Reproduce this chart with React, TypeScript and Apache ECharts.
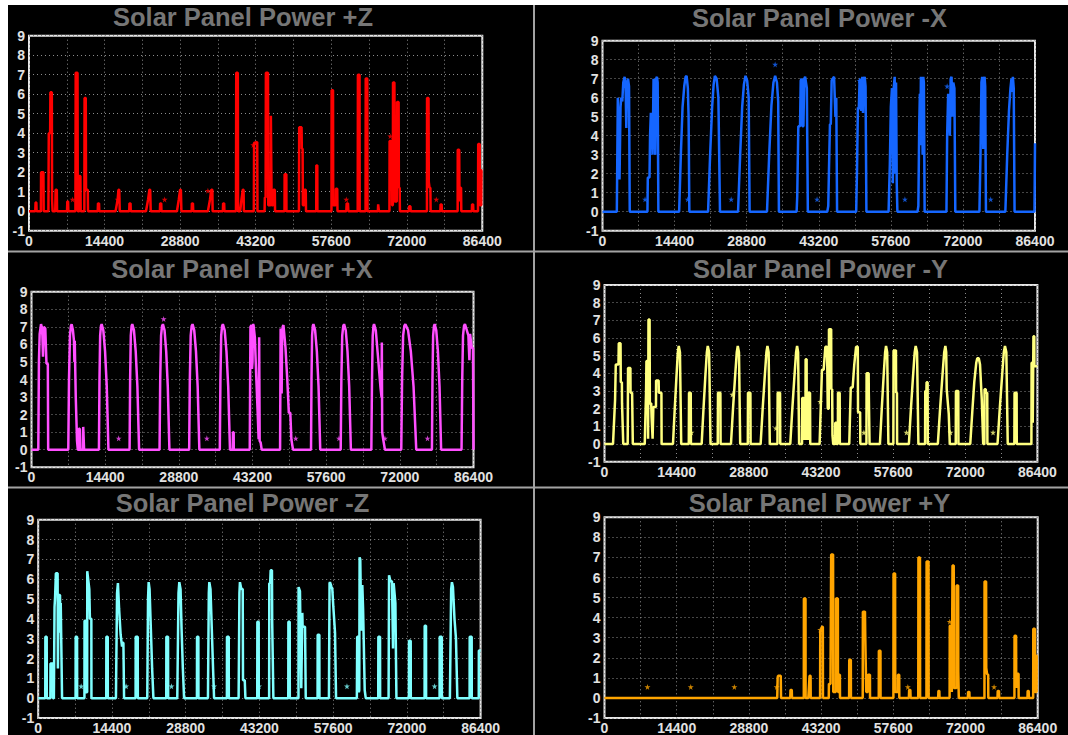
import { useEffect, useRef } from "react";
import * as echarts from "echarts";

type P = [number, number];

// ---- tick labels ----
const xTickValues = [0, 14400, 28800, 43200, 57600, 72000, 86400];
const yTickValues = [-1, 0, 1, 2, 3, 4, 5, 6, 7, 8, 9];

// ---- panel titles ----
const titles = [
  "Solar Panel Power +Z",
  "Solar Panel Power -X",
  "Solar Panel Power +X",
  "Solar Panel Power -Y",
  "Solar Panel Power -Z",
  "Solar Panel Power +Y",
];

// ---- series values (time in s, power) ----
const powerPlusZ: P[] = [
  [0, 0], [1200, 0], [1250, 0.45], [1400, 0.45], [1450, 0],
  [2270, 0], [2300, 2], [2750, 2], [2800, 0],
  [3700, 0], [3770, 4], [4030, 4], [4080, 6.1], [4350, 6.1], [4400, 0.6], [4500, 0], [5000, 0], [5070, 1.1], [5300, 1.1], [5350, 0],
  [7250, 0], [7300, 0.5], [7450, 0.5], [7500, 0],
  [8850, 0], [8900, 7.1], [9250, 7.1], [9300, 0], [9580, 0], [9610, 1.8], [9800, 1.8], [9850, 0],
  [10550, 0], [10590, 5.8], [10820, 5.8], [10870, 1.1], [11200, 1.1], [11250, 0],
  [13100, 0], [13150, 0.4], [13350, 0.4], [13400, 0],
  [16500, 0], [16900, 0.6], [17050, 1.1], [17200, 1.1], [17300, 0],
  [19100, 0], [19150, 0.4], [19350, 0.4], [19400, 0],
  [22300, 0], [22700, 0.6], [22950, 1.1], [23100, 1.1], [23200, 0],
  [24950, 0], [25000, 0.4], [25200, 0.4], [25250, 0],
  [28200, 0], [28550, 0.6], [28800, 1.1], [28950, 1.1], [29050, 0],
  [31000, 0], [31050, 0.4], [31250, 0.4], [31300, 0],
  [34100, 0], [34500, 0.6], [34750, 1.1], [34950, 1.1], [35000, 0],
  [36950, 0], [37000, 0.4], [37200, 0.4], [37250, 0],
  [39450, 0], [39500, 7.1], [39800, 7.1], [39850, 0],
  [40250, 0], [40500, 0.6], [40750, 1.1], [40900, 1.1], [40950, 0],
  [42850, 0], [42900, 3.5], [43500, 3.55], [43550, 0],
  [44900, 0], [44950, 0.7], [45100, 0.7], [45150, 7.1], [45550, 7.1], [45600, 0.3], [46050, 0.3], [46100, 4.9], [46200, 4.9], [46250, 0.3], [46550, 0.3], [46600, 1.1], [46850, 1.1], [46900, 0],
  [48700, 0], [48720, 1.9], [49050, 1.9], [49070, 0],
  [51450, 0], [51500, 4.3], [51950, 4.3], [52000, 3.2], [52150, 3.2], [52200, 0.3], [52450, 0.3], [52500, 1.1], [52750, 1.1], [52800, 0],
  [54750, 0], [54770, 2.35], [54950, 2.35], [54970, 0],
  [57650, 0], [57680, 6.2], [57950, 6.2], [57980, 0.3], [58450, 0.3], [58480, 1.15], [58750, 1.15], [58800, 0],
  [60480, 0], [60550, 0.4], [60800, 0.4], [60870, 0],
  [62650, 0], [62690, 7.0], [63000, 7.0], [63030, 0],
  [64150, 0], [64180, 6.8], [64480, 6.8], [64510, 0],
  [66500, 0], [66550, 0.35], [66650, 0.35], [66700, 0],
  [68700, 0], [68730, 3.6], [69150, 3.6], [69200, 0.3], [69350, 0.3], [69380, 6.6], [69650, 6.6], [69700, 0.5], [70100, 0.5], [70150, 5.6], [70450, 5.6], [70500, 1.2], [70650, 1.2], [70700, 0],
  [72400, 0], [72450, 0.25], [72700, 0.25], [72750, 0],
  [75850, 0], [75870, 5.8], [76150, 5.8], [76200, 1.5], [76350, 1.2], [76500, 1.2], [76550, 0],
  [78400, 0], [78450, 0.35], [78650, 0.35], [78700, 0],
  [81700, 0], [81720, 3.15], [82000, 3.15], [82050, 0.5], [82150, 1.2], [82350, 1.2], [82400, 0],
  [84400, 0], [84450, 0.35], [84650, 0.35], [84700, 0],
  [85580, 0], [85620, 3.45], [85900, 3.45], [85940, 0.3], [86200, 0.3], [86250, 2.1], [86400, 2.1],
];
const starsPlusZ: P[] = [
  [8310, 0.6], [16900, 0.6], [25850, 0.6], [34100, 1.05], [42740, 3.4], [60480, 0.6], [68860, 3.85], [77630, 0.6],
];

const powerMinusX: P[] = [
  [0, 0], [2860, 0], [3060, 6], [3200, 6], [3400, 1.7], [3600, 5.5], [3740, 6], [3950, 5.8], [4150, 6.8], [4420, 7.1], [4620, 6.5], [4760, 4.4], [4900, 6.8], [5100, 7], [5300, 6.6], [5440, 0],
  [8980, 0], [9050, 1.8], [9390, 1.8], [9500, 4], [9660, 5.2], [9850, 4.5], [10000, 3], [10200, 7], [10350, 6], [10540, 3], [10700, 7], [10880, 7.1], [11020, 6.8], [11160, 0],
  [15310, 0], [15650, 3], [15990, 5.5], [16330, 6.6], [16600, 7.1], [16800, 7.15], [17050, 6.5], [17200, 5], [17350, 0],
  [21090, 0], [21500, 3], [21900, 5.5], [22200, 6.7], [22450, 7.15], [22800, 7.0], [23150, 6.0], [23470, 0],
  [27080, 0], [27500, 3], [27900, 5.5], [28250, 6.7], [28570, 7.15], [28900, 6.9], [29200, 6], [29390, 0],
  [32860, 0], [33300, 3], [33750, 5.6], [34150, 6.8], [34490, 7.15], [34850, 6.8], [35100, 5.8], [35240, 0],
  [38780, 0], [38900, 0.8], [39120, 4.5], [39460, 4.5], [39600, 6.9], [39800, 7.0], [39950, 4.5], [40140, 4.5], [40300, 7], [40480, 7.1], [40820, 6.5], [41020, 0],
  [44900, 0], [45100, 0.3], [45240, 2.2], [45440, 4.6], [45600, 4.6], [45780, 6.9], [46000, 7.0], [46260, 7.1], [46530, 5.0], [46700, 6.0], [46860, 0],
  [50680, 0], [50850, 2.3], [51020, 5.5], [51200, 5.4], [51360, 6.9], [51550, 7.0], [51700, 5.3], [51900, 7.1], [52040, 5.2], [52200, 6.8], [52380, 7.1], [52550, 6.6], [52720, 0],
  [57150, 0], [57400, 2.5], [57600, 5.5], [57830, 6.5], [58000, 1.5], [58170, 6.5], [58370, 7.1], [58500, 2], [58640, 6.8], [58780, 1.5], [58910, 0],
  [62930, 0], [63100, 0.3], [63270, 4.5], [63400, 6.2], [63470, 3.5], [63610, 7.1], [63700, 5], [63810, 7], [63950, 3], [64080, 7.1], [64200, 6.8], [64350, 0],
  [68710, 0], [68850, 4], [69050, 6.2], [69200, 5.5], [69390, 4], [69550, 7], [69730, 7.1], [69900, 5], [70070, 6.8], [70300, 6.5], [70480, 0],
  [75300, 0], [75510, 3], [75700, 6.8], [75850, 7.1], [76060, 3.3], [76200, 7.0], [76330, 7.1], [76450, 6.6], [76600, 0],
  [80480, 0], [80850, 3], [81200, 5.3], [81500, 6.5], [81700, 7.0], [81850, 6.3], [81980, 7.1], [82150, 6.5], [82320, 0],
  [86300, 0], [86400, 3.6],
];
const starsMinusX: P[] = [
  [8500, 0.65], [17010, 0.65], [25710, 0.65], [34490, 7.75], [42860, 0.65], [51360, 6.9], [60410, 0.65], [68850, 6.6], [77550, 0.65],
];

const powerPlusX: P[] = [
  [0, 0], [1330, 0], [1450, 5], [1600, 6.6], [1860, 7.15], [2000, 7.0], [2130, 6.5], [2250, 5.3], [2330, 5.3], [2400, 7.0], [2530, 7.0], [2700, 6.9], [2800, 6.0], [2930, 4.9], [3190, 4.9], [3260, 0],
  [7190, 0], [7330, 4], [7520, 6.5], [7700, 7.05], [7850, 7.15], [8100, 6.8], [8300, 6.2], [8390, 5.0], [8450, 6.2], [8650, 3], [8900, 0.5], [9050, 0],
  [9190, 0], [9250, 1.2], [9450, 1.2], [9520, 0], [10050, 0], [10110, 1.3], [10230, 1.3], [10280, 0],
  [13180, 0], [13290, 4], [13420, 6.5], [13580, 7.05], [13710, 7.15], [14040, 6.8], [14380, 5.6], [14710, 3.6], [15040, 0],
  [19170, 0], [19280, 4], [19410, 6.5], [19570, 7.05], [19700, 7.15], [20030, 6.8], [20370, 5.6], [20700, 3.6], [21030, 0],
  [25030, 0], [25160, 4], [25330, 6.5], [25520, 7.05], [25690, 7.15], [26010, 6.8], [26330, 5.6], [26640, 3.6], [26960, 0],
  [30820, 0], [30950, 4], [31120, 6.5], [31310, 7.05], [31480, 7.15], [31810, 6.8], [32150, 5.6], [32480, 3.6], [32810, 0],
  [36810, 0], [36930, 4], [37080, 6.5], [37260, 7.05], [37410, 7.15], [37760, 6.8], [38110, 5.6], [38450, 3.6], [38800, 0],
  [39340, 0], [39380, 1.0], [39520, 1.0], [39540, 0],
  [42660, 0], [42800, 7.0], [42990, 7.1], [43100, 4.6], [43200, 5], [43300, 7.15], [43400, 7.1], [43660, 6.4], [43930, 4.2], [44200, 2.2], [44400, 0.6], [44500, 6.4], [44600, 0.5], [44800, 0.4], [45000, 0],
  [48590, 0], [48700, 6.9], [48790, 6.9], [48900, 3.2], [48990, 6.5], [49100, 7.0], [49250, 7.1], [49650, 5.8], [50000, 4], [50300, 2.1], [50590, 2.1], [50800, 0.6], [51120, 0],
  [54640, 0], [54730, 4], [54850, 6.5], [54990, 7.05], [55110, 7.15], [55440, 6.8], [55780, 5.6], [56110, 3.6], [56440, 0],
  [60440, 0], [60570, 4], [60740, 6.5], [60940, 7.05], [61100, 7.15], [61430, 6.8], [61770, 5.6], [62100, 3.6], [62430, 0],
  [66430, 0], [66560, 4], [66700, 6.5], [66850, 7.05], [66960, 7.15], [67300, 6.8], [67760, 5.2], [68200, 3.6], [68420, 3], [68480, 6.1], [68550, 1], [68750, 0.6], [69090, 0],
  [72280, 0], [72440, 4], [72640, 6.5], [72880, 7.05], [73080, 7.15], [73610, 6.8], [74150, 5.6], [74680, 3.6], [75210, 0],
  [78270, 0], [78380, 4], [78510, 6.5], [78680, 7.05], [78810, 7.15], [79120, 6.8], [79440, 5.6], [79760, 3.6], [80070, 0],
  [84060, 0], [84200, 4], [84350, 6.5], [84550, 7.05], [84730, 7.15], [85100, 6.8], [85400, 6.5], [85600, 5.1], [85730, 6.6], [86060, 5.8], [86300, 5.8], [86400, 0],
];
const starsPlusX: P[] = [
  [17040, 0.65], [25830, 7.45], [34280, 0.65], [51650, 0.65], [60100, 0.65], [69090, 0.65], [77410, 0.65],
];

const powerMinusY: P[] = [
  [0, 0], [1700, 0], [2110, 2.5], [2250, 4.5], [2790, 4.5], [2850, 5.7], [3200, 5.7], [3250, 3.5], [3470, 3.5], [3500, 2.3], [3610, 2.3], [3740, 0],
  [4630, 0], [4700, 4.3], [5170, 4.3], [5200, 2.9], [5510, 2.9], [5650, 0],
  [8030, 0], [8300, 3], [8370, 4.7], [8650, 4.7], [8700, 0.3], [8780, 7.05], [9000, 7.05], [9050, 2.3], [9320, 2.3], [9400, 1.5], [9600, 0.3], [9700, 0.3], [9750, 2.1], [10270, 2.1], [10300, 3.6], [10800, 3.6], [10850, 2.9], [11360, 2.9], [11400, 0],
  [13670, 0], [14020, 2.0], [14360, 3.8], [14640, 5.2], [14820, 5.55], [15060, 5.2], [15310, 0],
  [16820, 0], [16870, 2.9], [17210, 2.9], [17250, 0],
  [19390, 0], [19760, 2.0], [20120, 3.8], [20430, 5.2], [20610, 5.55], [20880, 5.2], [21160, 0],
  [22600, 0], [22650, 2.9], [23130, 2.9], [23170, 0],
  [25240, 0], [25650, 2.0], [26060, 3.8], [26400, 5.2], [26600, 5.55], [26840, 5.2], [27080, 0],
  [28600, 0], [28640, 2.9], [29120, 2.9], [29160, 0],
  [31160, 0], [31570, 2.0], [31980, 3.8], [32320, 5.2], [32520, 5.55], [32760, 5.2], [32990, 0],
  [34520, 0], [34560, 2.9], [35040, 2.9], [35080, 0],
  [37080, 0], [37490, 2.0], [37900, 3.8], [38240, 5.2], [38440, 5.55], [38640, 5.2], [38840, 0],
  [39420, 0], [39460, 2.6], [39800, 2.6], [39830, 0.3], [40100, 0.3], [40140, 4.8], [40340, 4.8], [40370, 0.3], [40640, 0.3], [40680, 2.9], [41020, 2.9], [41060, 0],
  [42930, 0], [43200, 2.4], [43400, 4.2], [43740, 4.2], [44080, 5.5], [44420, 5.5], [44560, 2], [44760, 2], [44800, 6.5], [45240, 6.5], [45270, 3.1], [45440, 3.1], [45500, 0.5], [45650, 0],
  [46030, 0], [46060, 1.2], [46300, 1.2], [46330, 0], [46570, 0], [46600, 2.9], [46940, 2.9], [46970, 0],
  [48850, 0], [49150, 3.2], [49530, 3.2], [49850, 4.5], [50210, 5.5], [50550, 5.5], [50600, 1.8], [51020, 1.8], [51060, 0],
  [52280, 0], [52310, 4], [52720, 4], [52750, 2.9], [52860, 2.9], [52900, 0],
  [54970, 0], [55340, 2.0], [55700, 3.8], [56010, 5.2], [56190, 5.55], [56420, 5.2], [56660, 0],
  [57650, 0], [57690, 5.3], [58170, 5.3], [58200, 2.9], [58370, 2.9], [58400, 0],
  [60750, 0], [61160, 2.0], [61570, 3.8], [61910, 5.2], [62110, 5.55], [62380, 5.2], [62650, 0],
  [63980, 0], [64020, 3.0], [64250, 3.0], [64280, 3.5], [64490, 3.5], [64520, 0],
  [66530, 0], [66980, 2.0], [67430, 3.8], [67800, 5.2], [68030, 5.55], [68200, 5.2], [68300, 3.1], [68440, 3.1], [68710, 1.7], [68910, 0],
  [70100, 0], [70140, 3.0], [70610, 3.0], [70640, 0],
  [73000, 0], [73400, 1.8], [73800, 3.5], [74200, 4.6], [74400, 4.85], [74700, 4.85], [74950, 4.5], [75300, 2.5], [75580, 0],
  [75820, 0], [75850, 3.1], [76100, 3.1], [76120, 2.9], [76390, 2.9], [76420, 0],
  [78440, 0], [78890, 2.0], [79340, 3.8], [79700, 5.2], [79930, 5.55], [80200, 5.2], [80480, 0],
  [81800, 0], [81840, 2.9], [82250, 2.9], [82280, 0],
  [85200, 0], [85240, 4.6], [85440, 4.6], [85470, 1.2], [85580, 1.2], [85610, 6.1], [85780, 6.1], [85800, 4.4], [86400, 4.4],
];
const starsMinusY: P[] = [
  [17350, 0.65], [25510, 2.8], [34220, 0.9], [43060, 2.4], [51770, 0.65], [60270, 0.65], [69050, 0.65], [77550, 0.65],
];

const powerMinusZ: P[] = [
  [0, 0], [1380, 0], [1400, 3.1], [1660, 3.1], [1680, 0],
  [2380, 0], [2400, 1.75], [2860, 1.75], [2880, 0],
  [3060, 0], [3190, 4.6], [3300, 5.1], [3390, 5.1], [3450, 6.3], [3790, 6.3], [3850, 1.5], [3930, 1.5], [3980, 5.2], [4260, 5.2], [4330, 3.3], [4400, 4.8], [4530, 4.8], [4660, 0],
  [7300, 0], [7320, 3.1], [7590, 3.1], [7610, 0],
  [9030, 0], [9050, 3.9], [9320, 3.9], [9340, 0.3], [9560, 0.3], [9580, 6.4], [9850, 5.8], [9980, 5.5], [10100, 4], [10380, 4], [10400, 0],
  [13290, 0], [13310, 3.1], [13580, 3.1], [13600, 0],
  [15180, 0], [15400, 5.3], [15570, 5.8], [15800, 4.5], [16100, 3.2], [16370, 2.6], [16400, 2.8], [16640, 2.8], [16770, 0],
  [19020, 0], [19040, 3.1], [19440, 3.1], [19460, 0],
  [21300, 0], [21450, 5], [21570, 5.85], [21750, 5.5], [22000, 3.5], [22250, 1.5], [22500, 0],
  [25010, 0], [25030, 3.1], [25360, 3.1], [25380, 0],
  [27160, 0], [27400, 5.3], [27560, 5.85], [27800, 5.5], [28000, 3.5], [28250, 1.5], [28490, 0],
  [31000, 0], [31020, 3.1], [31280, 3.1], [31300, 0],
  [33150, 0], [33320, 5.3], [33420, 5.85], [33650, 5.5], [33900, 3.5], [34150, 1.5], [34350, 0],
  [36850, 0], [36870, 3.1], [37210, 3.1], [37230, 0],
  [39140, 0], [39300, 5.3], [39400, 5.85], [39670, 5.5], [39940, 5.5], [40000, 0.9], [40340, 0.9], [40470, 0],
  [42780, 0], [42800, 3.85], [43060, 3.85], [43080, 0],
  [45100, 0], [45130, 5.8], [45300, 5.8], [45400, 6.45], [45650, 6.45], [45700, 3.8], [45800, 3.8], [45930, 0],
  [48840, 0], [48860, 3.85], [49120, 3.85], [49140, 0],
  [50830, 0], [50850, 5.6], [51120, 5.4], [51380, 0.5], [51580, 4.3], [51640, 3.6], [52110, 3.6], [52250, 0],
  [54560, 0], [54580, 3.2], [54910, 3.2], [54930, 0],
  [56780, 0], [56900, 5.8], [56980, 5.85], [57300, 5.6], [57440, 5.5], [57640, 4.6], [57970, 3.3], [58170, 0],
  [62230, 0], [62300, 3.1], [62560, 3.1], [62620, 0.3], [62700, 0.4], [62770, 7.1], [62900, 7.0], [63100, 3.4], [63300, 5.7], [63450, 4.5], [63570, 4.5], [63770, 0.4], [63970, 0],
  [66410, 0], [66430, 3.1], [66760, 3.1], [66780, 0],
  [68430, 0], [68520, 6.2], [68620, 6.2], [68800, 5.9], [69090, 5.9], [69300, 2.5], [69420, 5.8], [69760, 4.8], [69960, 0],
  [72400, 0], [72420, 2.9], [72750, 2.9], [72770, 0],
  [75460, 0], [75480, 3.65], [75740, 3.65], [75760, 0],
  [78390, 0], [78410, 3.1], [78810, 3.1], [78830, 0],
  [80400, 0], [80650, 5.5], [80800, 5.85], [81000, 5.6], [81300, 4], [81590, 3], [81700, 3], [81860, 0],
  [84250, 0], [84270, 3.1], [84660, 3.1], [84680, 0],
  [86040, 0], [86060, 2.4], [86400, 2.4],
];
const starsMinusZ: P[] = [
  [8390, 0.6], [17170, 0.6], [26030, 0.6], [34350, 0.6], [43130, 0.6], [60300, 0.6], [77410, 0.6],
];

const powerPlusY: P[] = [
  [0, 0], [34450, 0], [34530, 1.0], [34600, 1.1], [35150, 1.1], [35210, 0],
  [37050, 0], [37100, 0.4], [37350, 0.4], [37390, 0],
  [39750, 0], [39770, 4.95], [40090, 4.95], [40110, 0],
  [40650, 0], [40900, 1.1], [41100, 1.1], [41130, 0],
  [43000, 0], [43030, 3.3], [43400, 3.55], [43550, 3.55], [43570, 0],
  [44730, 0], [44760, 0.7], [45070, 0.7], [45210, 7.15], [45590, 7.15], [45620, 0.3], [46130, 0.3], [46160, 4.95], [46540, 4.95], [46570, 0.3], [46770, 0.3], [46800, 1.15], [46950, 1.15], [46970, 0],
  [48790, 0], [48810, 1.9], [49130, 1.9], [49150, 0],
  [51500, 0], [51530, 4.3], [51950, 4.3], [52000, 3.2], [52140, 3.2], [52200, 0.3], [52520, 0.3], [52550, 1.15], [52940, 1.15], [52960, 0],
  [54700, 0], [54720, 2.35], [55040, 2.35], [55060, 0],
  [57620, 0], [57650, 6.2], [57960, 6.2], [57990, 0.3], [58500, 0.3], [58530, 1.15], [58780, 1.15], [58800, 0],
  [60710, 0], [60760, 0.4], [61000, 0.4], [61050, 0],
  [62580, 0], [62610, 7.0], [62920, 7.0], [62950, 0],
  [64210, 0], [64240, 6.8], [64620, 6.8], [64650, 0],
  [66550, 0], [66600, 0.35], [66780, 0.35], [66820, 0],
  [68830, 0], [68860, 3.6], [69240, 3.6], [69270, 0.3], [69380, 0.3], [69410, 6.6], [69650, 6.6], [69680, 0.5], [70190, 0.5], [70220, 5.6], [70530, 5.6], [70560, 1.3], [70630, 1.3], [70660, 0],
  [72470, 0], [72520, 0.3], [72770, 0.3], [72810, 0],
  [75780, 0], [75800, 5.8], [76110, 5.8], [76140, 1.5], [76300, 1.2], [76520, 1.15], [76550, 0],
  [78380, 0], [78430, 0.35], [78680, 0.35], [78720, 0],
  [81760, 0], [81780, 3.1], [82090, 3.1], [82120, 0.5], [82330, 1.2], [82580, 1.2], [82600, 0],
  [84360, 0], [84400, 0.35], [84600, 0.35], [84640, 0],
  [85500, 0], [85520, 3.45], [85840, 3.45], [85860, 0.3], [86180, 0.3], [86200, 2.1], [86400, 2.1],
];
const starsPlusY: P[] = [
  [8570, 0.55], [17200, 0.55], [25900, 0.55], [34330, 0.55], [43030, 3.4], [60500, 0.55], [68860, 3.8], [77700, 0.55],
];

const seriesValues = [powerPlusZ, powerMinusX, powerPlusX, powerMinusY, powerMinusZ, powerPlusY];
const starValues = [starsPlusZ, starsMinusX, starsPlusX, starsMinusY, starsMinusZ, starsPlusY];

// ---- layout & styles (page pixel coordinates) ----
const colors = ["#ff0000", "#1566ff", "#ff4fff", "#ffff80", "#80ffff", "#ffa500"];
const gridBoxes = [
  { left: 29, top: 35.7, width: 453.3, height: 195 },
  { left: 602.5, top: 40.7, width: 432.5, height: 190 },
  { left: 31.5, top: 291.7, width: 442, height: 175.6 },
  { left: 604.5, top: 285, width: 432.9, height: 176.7 },
  { left: 38.2, top: 519.7, width: 442.4, height: 200 },
  { left: 604.5, top: 517.3, width: 433.2, height: 200.7 },
];
const titlePos = [
  [243, 16.8], [819.5, 17.6], [242, 268.5], [820.5, 268.5], [242.5, 503], [819.5, 503],
];

const STAR =
  "path://M50,0 L61,35 L98,35 L68,57 L79,91 L50,70 L21,91 L32,57 L2,35 L39,35 Z";

export default function App() {
  const ref = useRef<HTMLDivElement>(null);
  useEffect(() => {
    if (!ref.current) return;
    const chart = echarts.init(ref.current, null, { renderer: "svg" });
    const font = '"Liberation Sans", Arial, sans-serif';
    const dotted = { color: "#8c8c8c", width: 1, type: [1, 3] as number[] };
    const xLabelSet = new Set(xTickValues);
    const yLabelSet = new Set(yTickValues);

    const option: any = {
      animation: false,
      backgroundColor: "#ffffff",
      grid: gridBoxes.map((g) => ({
        ...g,
        show: true,
        borderColor: "#e6e6e6",
        borderWidth: 2,
        backgroundColor: "transparent",
        containLabel: false,
      })),
      xAxis: gridBoxes.map((_, i) => ({
        type: "value",
        gridIndex: i,
        min: 0,
        max: 86400,
        interval: 7200,
        axisLine: { show: false },
        axisTick: { show: false },
        splitLine: { show: true, lineStyle: dotted },
        axisLabel: {
          color: "#e2e2e2",
          fontSize: 14,
          fontWeight: "bold",
          fontFamily: font,
          margin: 3,
          showMinLabel: true,
          showMaxLabel: true,
          formatter: (v: number) => (xLabelSet.has(v) ? String(v) : ""),
        },
      })),
      yAxis: gridBoxes.map((_, i) => ({
        type: "value",
        gridIndex: i,
        min: -1,
        max: 9,
        interval: 1,
        axisLine: { show: false },
        axisTick: { show: false },
        splitLine: { show: true, lineStyle: dotted },
        axisLabel: {
          color: "#e2e2e2",
          fontSize: 14,
          fontWeight: "bold",
          fontFamily: font,
          margin: 4,
          showMinLabel: true,
          showMaxLabel: true,
          formatter: (v: number) => (yLabelSet.has(v) ? String(v) : ""),
        },
      })),
      series: [
        ...seriesValues.map((d, i) => ({
          type: "line",
          xAxisIndex: i,
          yAxisIndex: i,
          data: d,
          showSymbol: false,
          symbol: "none",
          silent: true,
          clip: true,
          lineStyle: { color: colors[i], width: 2.5 },
          itemStyle: { color: colors[i] },
          z: 3,
        })),
        ...starValues.map((d, i) => ({
          type: "scatter",
          xAxisIndex: i,
          yAxisIndex: i,
          data: d,
          symbol: STAR,
          symbolSize: 6,
          silent: true,
          itemStyle: { color: colors[i], opacity: 0.8 },
          z: 4,
        })),
      ],
      graphic: [
        { type: "rect", z: -100, shape: { x: 8, y: 5, width: 1060, height: 730 }, style: { fill: "#000000" }, silent: true },
        { type: "line", z: -50, shape: { x1: 534, y1: 5, x2: 534, y2: 735 }, style: { stroke: "#a3a3a3", lineWidth: 2 }, silent: true },
        { type: "line", z: -50, shape: { x1: 8, y1: 251.5, x2: 1068, y2: 251.5 }, style: { stroke: "#a3a3a3", lineWidth: 2 }, silent: true },
        { type: "line", z: -50, shape: { x1: 8, y1: 487.5, x2: 1068, y2: 487.5 }, style: { stroke: "#a3a3a3", lineWidth: 2 }, silent: true },
        ...titles.map((t, i) => ({
          type: "text",
          x: titlePos[i][0],
          y: titlePos[i][1],
          silent: true,
          style: {
            text: t,
            fill: "#767676",
            font: `bold 25.5px ${font}`,
            align: "center",
            verticalAlign: "middle",
          },
        })),
      ],
    };
    chart.setOption(option);
    return () => chart.dispose();
  }, []);

  return (
    <div
      ref={ref}
      style={{ position: "absolute", left: 0, top: 0, width: 1068, height: 735 }}
    />
  );
}
